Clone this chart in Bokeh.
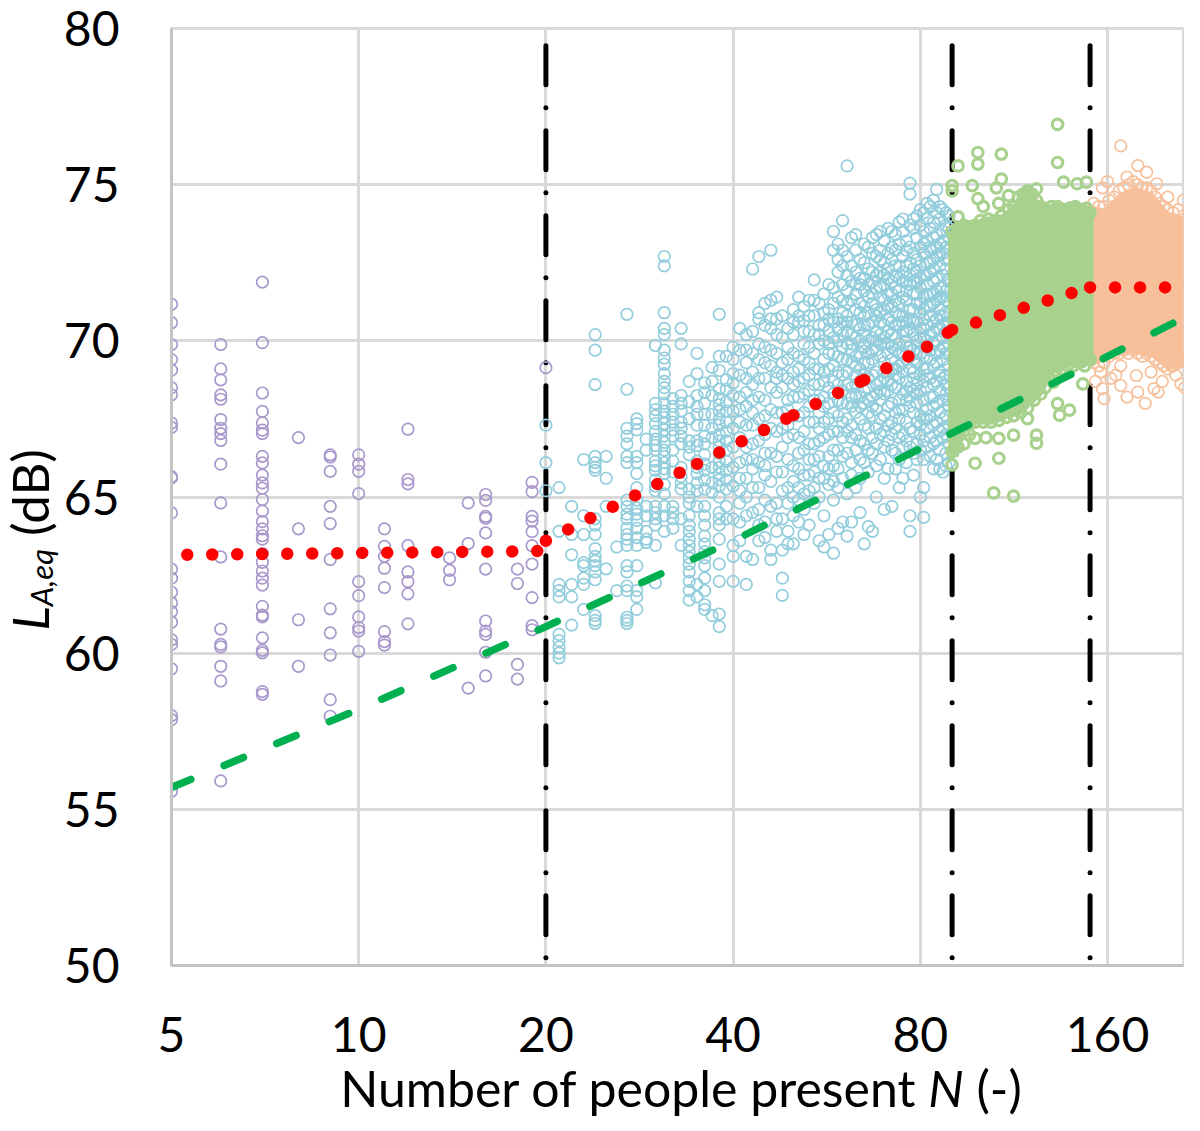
from bokeh.plotting import figure
from bokeh.models import Range1d, FixedTicker, BasicTickFormatter, Div
from bokeh.layouts import row, column
from bokeh.embed import file_html
from bokeh.resources import INLINE

# ---------------- axes ----------------
x_ticks = [5, 10, 20, 40, 80, 160]
y_ticks = [50, 55, 60, 65, 70, 75, 80]
x_min, x_max = 5, 212
y_min, y_max = 50, 80
x_title_plain = "Number of people present"
x_title_var = "N"
x_title_unit = "(-)"
y_title_var = "L"
y_title_sub = "A,eq"
y_title_unit = "(dB)"

# ---------------- scatter data: {N: [LAeq values]} ----------------
purple_cols = {
    5: [71.17, 70.58, 69.88, 69.40, 69.06, 68.50, 68.27, 67.37, 67.23, 65.65, 65.61, 64.49, 62.69, 62.40,
        61.95, 61.61, 61.33, 60.99, 60.43, 60.28, 59.50, 58.00, 57.87, 55.58],
    6: [69.88, 69.10, 68.75, 68.27, 68.13, 67.48, 67.20, 67.03, 66.81, 66.05, 64.81, 63.08, 60.77, 60.28,
        60.20, 59.58, 59.11, 55.91],
    7: [71.88, 69.94, 68.33, 67.74, 67.37, 67.14, 67.03, 66.30, 66.09, 65.70, 65.45, 65.28, 64.92, 64.55,
        64.21, 63.98, 63.76, 63.65, 63.19, 62.91, 62.63, 62.40, 62.18, 61.50, 61.22, 61.16, 60.49, 60.09,
        60.01, 58.77, 58.68],
    8: [66.90, 63.98, 61.07, 59.58],
    9: [66.35, 66.28, 65.82, 64.70, 64.15, 63.00, 61.42, 60.65, 59.94, 58.51, 57.98],
    10: [66.35, 66.05, 65.82, 65.11, 62.29, 61.84, 61.16, 60.82, 60.71, 60.06],
    11: [63.98, 63.42, 63.10, 62.72, 62.10, 60.69, 60.37, 60.26],
    12: [67.17, 65.56, 65.42, 63.44, 62.60, 62.29, 61.90, 60.94],
    14: [63.05, 62.65, 62.35],
    15: [64.81, 63.51, 58.88],
    16: [65.08, 64.89, 64.38, 64.32, 63.85, 62.69, 61.03, 60.71, 60.60, 60.03, 59.27],
    18: [62.69, 62.23, 59.64, 59.17],
    19: [65.47, 65.17, 64.38, 64.23, 63.89, 63.44, 62.85, 61.78, 60.88, 60.75],
    20: [69.14],
}

blue_cols_20_40 = {
    20: [67.3, 66.1, 65.2],
    21: [65.3, 63.9, 62.2, 62.0, 61.8, 60.6, 60.4, 60.2, 60.0, 59.85],
    22: [64.7, 63.8, 63.15, 62.2, 61.8, 60.9],
    23: [66.2, 64.4, 63.8, 62.9, 62.8, 62.4, 62.2, 61.4],
    24: [70.2, 69.7, 68.6, 66.3, 66.1, 65.95, 65.85, 64.3, 64.1, 63.8, 63.35, 63.1, 62.95, 62.8, 62.6,
         62.35, 61.2, 61.05, 60.95],
    25: [66.3, 65.6, 64.7, 62.7],
    26: [63.4, 62.0],
    27: [70.85, 68.45, 67.2, 66.95, 66.7, 66.3, 66.1, 64.9, 64.7, 64.45, 64.3, 64.0, 63.8, 63.65, 63.45,
         62.8, 62.6, 62.15, 62.0, 61.15, 61.05, 60.95],
    28: [67.5, 67.35, 67.15, 66.3, 66.1, 65.75, 65.3, 64.9, 64.65, 64.45, 64.25, 64.0, 63.7, 63.45, 62.8,
         62.0, 61.8, 61.4],
    29: [66.85, 66.5, 64.7, 64.4, 63.9, 63.65, 63.55],
    30: [69.85, 68.0, 67.8, 67.6, 67.35, 67.1, 66.85, 66.65, 66.5, 66.15, 66.0, 65.85, 65.55, 65.35, 65.2,
         64.7, 64.5, 64.3, 64.1, 63.45, 62.25],
    31: [72.7, 72.4, 70.9, 70.4, 70.2, 69.7, 69.45, 69.25, 68.95, 68.7, 68.5, 68.3, 68.0, 67.75, 67.55,
         67.35, 67.15, 66.95, 66.75, 66.5, 66.3, 66.1, 65.9, 65.75, 65.4, 65.1, 64.7, 64.4, 63.9],
    32: [68.15, 67.9, 67.65, 67.4, 67.15, 66.95, 66.5, 66.15, 65.8, 64.7, 64.5, 64.3, 64.0],
    33: [70.4, 69.9, 68.25, 68.0, 67.75, 67.4, 67.2, 66.95, 66.7, 65.95, 65.65, 65.45, 65.25, 64.3, 63.45],
    34: [68.7, 68.05, 67.5, 66.8, 66.6, 66.35, 65.25, 65.0, 64.8, 64.4, 64.1, 63.9, 63.65, 63.45, 63.25,
         63.05, 62.85, 62.6, 62.3, 62.0, 61.7],
    35: [69.6, 68.95, 68.25, 67.9, 67.65, 67.3, 66.8, 66.65, 66.15, 65.95, 65.75, 65.45, 65.2, 64.7, 62.2, 61.8],
    36: [68.65, 68.35, 68.0, 67.65, 67.3, 66.95, 66.7, 66.35, 66.05, 65.85, 65.55, 65.25, 64.7, 64.4, 64.1,
         63.75, 63.5, 63.25, 63.05, 62.8, 62.4, 62.0, 61.55, 61.4],
    37: [69.15, 68.7, 68.25, 67.65, 67.2, 66.9, 65.95, 65.45, 65.15, 61.2],
    38: [70.85, 69.5, 69.05, 68.45, 68.15, 67.95, 67.75, 67.5, 67.3, 67.0, 66.8, 66.6, 66.4, 66.15, 65.95,
         65.75, 65.55, 65.35, 65.0, 64.5, 64.3, 64.1, 63.65, 62.85, 62.3, 61.25, 60.85],
    39: [69.5, 68.75, 68.45, 68.05, 67.75, 67.4, 67.1, 66.8, 66.5, 66.15, 65.85, 65.55, 65.25, 64.7, 64.3],
    40: [69.8, 69.4, 68.95, 68.65, 68.25, 67.75, 67.2, 66.6, 65.95, 65.35, 64.3, 63.45, 63.1, 62.3],
}

blue_cols_41_60 = {
    41: [69.7, 68.9, 68.2, 67.4, 66.9, 66.1, 65.2, 64.8, 63.6, 70.4, 67.8, 65.6, 64.2],
    42: [70.2, 69.3, 68.8, 68.35, 67.9, 66.6, 65.6, 65.0, 63.1, 62.2, 69.7, 67.3, 66.2, 64.4],
    43: [72.3, 69.6, 69.0, 68.6, 68.1, 67.3, 66.7, 65.9, 64.5, 63.0, 70.3, 67.7, 66.2, 65.3],
    44: [72.7, 70.9, 70.7, 69.4, 68.2, 67.5, 66.1, 65.3, 64.6, 63.6, 69.9, 68.8, 66.8, 64.1],
    45: [70.5, 69.8, 68.8, 68.1, 67.0, 66.4, 65.7, 64.9, 64.2, 71.2, 69.3, 67.6, 66.0, 63.7],
    46: [72.9, 70.7, 70.4, 69.2, 68.5, 67.8, 66.4, 65.5, 63.3, 63.0, 71.3, 69.7, 67.2, 64.7],
    47: [71.4, 70.7, 69.6, 69.0, 68.8, 68.35, 67.7, 65.8, 64.8, 63.9, 70.2, 67.1, 66.3, 64.3],
    48: [70.1, 69.3, 68.5, 67.2, 66.6, 65.2, 64.3, 62.4, 61.85, 70.8, 68.9, 67.7, 65.8, 63.3],
    49: [69.8, 68.8, 68.1, 67.8, 66.9, 65.3, 64.8, 63.9, 63.5, 70.4, 69.4, 67.3, 66.2],
    50: [71.0, 70.2, 69.0, 68.2, 67.0, 66.0, 65.5, 64.4, 63.5, 70.6, 69.6, 68.6, 67.6, 65.0],
    51: [70.8, 70.6, 69.5, 68.7, 67.6, 66.9, 65.9, 64.9, 64.2, 71.4, 69.1, 68.2, 66.4, 65.3],
    52: [70.65, 69.9, 68.8, 67.7, 66.5, 65.7, 64.6, 63.8, 71.1, 70.3, 69.4, 68.3, 67.1, 65.1],
    53: [71.3, 70.3, 69.3, 68.4, 67.4, 66.2, 65.2, 64.1, 70.8, 69.8, 68.9, 67.9, 66.7, 65.7],
    54: [71.95, 71.3, 70.8, 69.6, 68.6, 67.4, 66.7, 65.8, 64.8, 70.2, 69.1, 68.1, 66.2, 65.3],
    55: [70.5, 69.9, 69.1, 68.1, 67.2, 66.3, 65.0, 63.6, 71.2, 70.2, 68.6, 67.7, 66.8, 65.6],
    56: [70.9, 70.0, 69.4, 68.7, 67.9, 66.9, 66.0, 64.4, 63.4, 71.5, 70.5, 69.0, 68.2, 67.4, 65.6],
    57: [71.0, 70.3, 69.6, 68.5, 67.5, 66.3, 65.4, 63.8, 71.8, 70.7, 69.9, 69.1, 68.0, 67.0, 65.9],
    58: [73.5, 72.9, 71.2, 70.1, 69.2, 68.3, 67.1, 66.0, 64.9, 63.2, 71.7, 70.6, 69.6, 68.7, 67.7, 66.5, 65.5],
    59: [73.1, 72.6, 70.7, 70.4, 69.5, 68.6, 67.1, 66.5, 65.3, 64.0, 72.2, 71.4, 70.0, 69.0, 68.1, 67.6, 65.9],
    60: [73.85, 72.4, 71.3, 70.6, 69.8, 68.9, 68.0, 66.9, 65.6, 64.2, 72.9, 71.8, 70.9, 70.2, 69.4, 68.4,
         67.4, 66.3],
}

blue_cols_61_89 = {
    61: [75.6, 72.7, 72.1, 71.6, 70.8, 70.3, 69.9, 69.0, 68.6, 68.0, 67.5, 67.1, 66.4, 65.1, 63.75, 71.2, 69.4, 70.6],
    62: [73.3, 72.4, 71.9, 70.6, 70.2, 69.7, 69.3, 68.5, 67.9, 67.3, 66.9, 66.1, 65.7, 64.2, 71.3, 68.2, 69.9],
    63: [72.9, 72.2, 71.5, 71.0, 70.1, 69.5, 68.9, 68.3, 67.7, 67.0, 66.5, 65.3, 73.4, 70.5, 69.2, 71.8, 68.6],
    64: [72.6, 72.0, 71.8, 70.9, 70.4, 69.6, 69.1, 68.7, 67.9, 67.5, 66.8, 66.2, 65.6, 64.5, 71.2, 68.2, 70.0],
    65: [73.1, 72.5, 71.6, 71.1, 70.5, 69.8, 69.3, 68.4, 68.0, 67.3, 66.7, 66.1, 63.5, 70.2, 72.0, 68.9, 70.8],
    66: [73.0, 72.3, 71.4, 70.9, 70.0, 69.6, 68.8, 68.5, 67.7, 67.2, 66.5, 65.8, 64.05, 71.8, 69.3, 70.5, 68.1],
    67: [73.3, 72.8, 71.9, 71.2, 70.6, 70.1, 69.4, 68.9, 68.2, 67.6, 66.9, 66.4, 63.9, 72.2, 67.9, 69.7, 71.5],
    68: [72.7, 72.1, 71.7, 70.8, 70.3, 69.7, 69.0, 68.6, 67.8, 67.2, 66.7, 66.0, 65.0, 73.4, 71.0, 68.3, 70.0],
    69: [73.5, 72.9, 72.2, 71.4, 70.9, 70.2, 69.5, 68.7, 68.1, 67.5, 67.0, 66.2, 71.7, 69.9, 68.4, 70.6, 72.6],
    70: [73.2, 72.5, 71.8, 71.3, 70.5, 69.9, 69.3, 68.8, 68.3, 67.6, 67.1, 66.6, 65.6, 64.6, 72.1, 70.1, 69.0, 71.0],
    71: [73.6, 72.8, 72.3, 71.5, 70.7, 70.3, 69.6, 69.0, 68.4, 67.9, 67.3, 66.8, 65.9, 71.1, 68.7, 69.9, 72.0],
    72: [73.0, 72.6, 71.9, 71.1, 70.6, 69.8, 69.4, 68.6, 68.0, 67.4, 66.5, 64.7, 73.5, 70.2, 67.0, 71.5, 69.1],
    73: [73.4, 72.9, 72.1, 71.7, 70.9, 70.1, 69.7, 69.1, 68.5, 67.7, 67.2, 66.4, 65.9, 72.4, 68.9, 70.5, 71.3],
    74: [73.8, 73.1, 72.4, 71.6, 71.2, 70.5, 69.9, 69.2, 68.8, 68.1, 67.5, 66.9, 66.2, 65.3, 70.8, 67.8, 69.6, 72.0],
    75: [73.5, 72.7, 72.2, 71.4, 70.8, 70.3, 69.6, 69.0, 68.3, 67.8, 67.0, 66.6, 65.6, 73.9, 71.9, 69.3, 70.6],
    76: [73.2, 72.9, 71.9, 71.3, 70.6, 70.0, 69.4, 68.7, 68.1, 67.4, 66.8, 66.1, 72.4, 69.8, 71.6, 68.4, 70.3],
    77: [75.05, 74.7, 73.7, 73.0, 72.5, 71.8, 71.0, 70.4, 69.8, 69.1, 68.5, 67.9, 67.2, 66.6, 64.4, 63.9, 72.1,
         70.7, 68.2, 69.5],
    78: [73.6, 72.8, 72.3, 71.5, 71.0, 70.2, 69.7, 69.0, 68.4, 67.7, 67.1, 66.4, 65.7, 73.9, 70.6, 68.8, 71.9, 69.4],
    79: [74.0, 73.3, 72.6, 71.9, 71.2, 70.6, 70.0, 69.3, 68.6, 68.0, 67.4, 66.7, 66.2, 72.2, 69.6, 71.5, 68.3],
    80: [73.7, 73.0, 72.4, 71.7, 70.9, 70.4, 69.6, 68.9, 68.4, 67.6, 67.0, 66.5, 65.0, 74.2, 72.0, 70.1, 67.3, 71.2],
    81: [74.1, 73.5, 72.8, 72.1, 71.4, 70.7, 70.1, 69.5, 68.7, 68.1, 67.5, 66.8, 66.2, 65.3, 64.35, 73.1, 71.0,
         69.1, 70.4],
    82: [73.9, 73.2, 72.5, 71.8, 71.1, 70.5, 69.8, 69.1, 68.5, 67.8, 67.2, 66.6, 74.4, 72.1, 70.0, 67.5, 71.5, 68.9],
    83: [74.3, 73.6, 72.9, 72.2, 71.5, 70.8, 70.2, 69.4, 68.8, 68.2, 67.6, 66.9, 66.3, 73.0, 71.1, 69.7, 72.5],
    84: [73.8, 73.3, 72.6, 71.9, 71.2, 70.6, 69.9, 69.2, 68.6, 67.9, 67.3, 66.7, 65.9, 74.5, 72.3, 70.3, 68.2, 71.5],
    85: [74.85, 74.1, 73.4, 72.7, 72.0, 71.3, 70.7, 70.0, 69.3, 68.7, 68.0, 67.4, 66.8, 66.2, 73.0, 71.6, 69.6, 70.4],
    86: [73.9, 73.1, 72.4, 71.7, 71.0, 70.4, 69.7, 69.0, 68.4, 67.7, 67.1, 66.5, 65.9, 74.3, 72.8, 70.8, 68.9, 71.4],
    87: [74.2, 73.5, 72.8, 72.1, 71.4, 70.8, 70.1, 69.4, 68.8, 68.1, 67.5, 66.9, 65.8, 73.2, 71.7, 69.8, 67.2, 70.5],
    88: [73.7, 73.0, 72.3, 71.6, 70.9, 70.3, 69.6, 68.9, 68.3, 67.6, 67.0, 66.4, 66.0, 74.1, 72.6, 70.6, 68.6, 71.3],
    89: [74.0, 73.3, 72.6, 71.9, 71.2, 70.6, 69.9, 69.2, 68.5, 67.9, 67.3, 66.7, 66.1, 73.6, 72.0, 70.2, 68.1, 69.6],
}

# N = 90-150: saturated cloud (envelope) plus the individually visible circles
green_core_n = [89, 90.6, 94, 97.6, 101.4, 105.2, 109.1, 113.2, 116, 120.4, 123.4, 128, 132.7, 137.7,
                142.9, 148.3, 151.5,
                151.5, 146.5, 141.3, 136.3, 131.5, 128.4, 125.5, 120.4, 116, 110.4, 105.2, 100, 96.4,
                94, 91.8, 89]
green_core_l = [73.4, 73.65, 73.8, 73.75, 73.95, 73.95, 74.05, 74.35, 74.75, 74.8, 74.5, 74.3, 74.4, 74.3,
                74.4, 74.3, 74.2,
                69.35, 69.15, 69.25, 69.15, 69.0, 68.7, 68.3, 67.95, 67.65, 67.55, 67.35, 67.35, 67.35,
                67.0, 66.3, 66.4]
green_cols = {
    90: [74.97, 74.8, 73.5, 66.03, 66.45],
    92: [75.6, 73.97, 73.6, 66.6],
    94: [73.7, 67.1, 66.7],
    96: [73.65, 67.35, 67.0],
    97: [74.97],
    98: [73.7, 67.4, 66.08, 66.88],
    99: [76.03, 75.66, 74.55],
    100: [73.85],
    101: [74.3, 67.4],
    102: [66.9],
    103: [73.9],
    104: [67.4],
    105: [65.13],
    106: [74.9, 73.85],
    107: [74.4, 67.45, 66.24, 66.88],
    108: [75.98, 75.18, 74.0],
    110: [67.55],
    111: [74.65, 74.2],
    113: [74.3, 67.6, 66.98, 65.03],
    115: [74.6],
    116: [67.7],
    117: [74.7],
    119: [74.8, 74.75, 67.85, 67.51],
    121: [74.7],
    122: [68.1],
    123: [74.87, 74.5, 66.98, 66.72],
    125: [74.3, 68.3],
    127: [74.2, 68.5],
    129: [68.8],
    130: [74.3],
    131: [68.68],
    132: [69.05],
    133: [76.93, 75.71, 74.3, 67.99],
    134: [67.62],
    135: [69.1],
    136: [75.08, 74.2],
    138: [69.2],
    139: [74.25, 67.78],
    141: [69.2],
    142: [74.3],
    143: [75.03],
    144: [69.3],
    145: [74.2],
    146: [68.62],
    147: [69.2],
    148: [75.08, 74.25],
    150: [74.1, 69.4],
}

# N = 151-222: saturated cloud (envelope) plus the individually visible circles
orange_core_n = [151, 158, 168, 178, 189, 200, 211, 224,
                 224, 211, 200, 189, 178, 168, 158, 151]
orange_core_l = [74.3, 74.2, 74.7, 74.9, 74.7, 74.1, 73.95, 73.9,
                 69.4, 69.2, 69.1, 69.5, 69.6, 69.6, 69.4, 69.2]
orange_cols = {
    152: [74.4, 69.3],
    153: [68.7],
    155: [74.3, 69.2],
    156: [69.0],
    157: [74.9, 68.47],
    158: [74.3, 69.3, 68.15],
    160: [75.1],
    161: [74.5, 69.5],
    162: [68.8],
    164: [74.6, 69.6],
    165: [68.9],
    167: [74.8, 69.6],
    168: [76.24, 69.2, 68.57],
    170: [74.9, 69.7],
    172: [75.24, 68.2],
    173: [75.0, 69.6],
    176: [75.1, 69.7],
    178: [68.89],
    179: [75.61, 75.0, 69.6, 68.36],
    182: [74.9, 69.5],
    184: [68.0],
    185: [75.4, 74.9, 69.6],
    188: [74.8, 69.5, 69.0],
    190: [68.47],
    191: [74.6, 69.4],
    192: [75.03],
    193: [68.36],
    194: [74.4, 69.3],
    196: [68.7],
    197: [74.3, 69.2],
    199: [69.42],
    200: [74.6, 74.2, 69.1],
    203: [69.2],
    204: [74.1, 69.2],
    206: [68.9],
    208: [74.2, 69.3],
    210: [68.62],
    212: [74.5, 74.0, 69.4],
    213: [68.5],
    215: [69.42],
    216: [74.1, 69.4],
    219: [74.3, 67.94],
    220: [73.95, 69.5],
}

# ---------------- trend lines and boundaries ----------------
trend_n = [5, 10, 20, 40, 80, 160, 220]
trend_l = [55.7, 58.2, 60.85, 63.6, 66.55, 69.5, 70.9]

red_seg_n = [[5.3, 20], [20, 35], [35, 50], [50, 65], [65, 82], [82, 90], [90, 150], [150, 230]]
red_seg_l = [[63.15, 63.27], [63.6, 66.06], [66.06, 67.62], [67.62, 68.75], [68.75, 69.81],
             [69.81, 70.35], [70.35, 71.71], [71.71, 71.71]]

boundary_n = [20, 90, 150]
boundary_l = [79.45, 50]

# ---------------- colours ----------------
PURPLE = "#A898CB"
BLUE = "#92CDDC"
GREEN = "#A9D18E"
ORANGE = "#F7C09A"
GRID = "#D9D9D9"
AXIS = "#C4C4C4"
FONT = "Lato"


def flat(*dicts):
    xs, ys = [], []
    for cols in dicts:
        for n, ls in cols.items():
            xs += [n] * len(ls)
            ys += ls
    return xs, ys


# ---------------- layout sizes ----------------
TOTAL_W, TOTAL_H = 1184, 1115
YT_W = 60                      # y title column
PW, PH = TOTAL_W - YT_W, 1072  # plot
XT_H = TOTAL_H - PH            # x title row
BL, BR, BT = 110, 1, 28
BB = PH - 965

p = figure(width=PW, height=PH, x_axis_type="log",
           x_range=Range1d(x_min, x_max), y_range=Range1d(y_min, y_max),
           output_backend="svg", toolbar_location=None,
           min_border_left=BL, min_border_right=BR, min_border_top=BT, min_border_bottom=BB)
p.background_fill_color = "white"
p.border_fill_color = "white"
p.outline_line_color = GRID
p.outline_line_width = 3

for ax in (p.xaxis[0], p.yaxis[0]):
    ax.axis_line_color = AXIS
    ax.axis_line_width = 3
    ax.major_tick_line_color = None
    ax.minor_tick_line_color = None
    ax.major_tick_out = 0
    ax.major_tick_in = 0
    ax.major_label_text_font = FONT
    ax.major_label_text_font_size = "48px"
    ax.major_label_text_color = "black"

p.xaxis.ticker = FixedTicker(ticks=x_ticks, minor_ticks=[])
p.xaxis.formatter = BasicTickFormatter()
p.xaxis.major_label_standoff = 51
p.yaxis.ticker = FixedTicker(ticks=y_ticks, minor_ticks=[])
p.yaxis.major_label_standoff = 52

p.xgrid.ticker = FixedTicker(ticks=x_ticks, minor_ticks=[])
p.ygrid.ticker = FixedTicker(ticks=y_ticks, minor_ticks=[])
for g in (p.xgrid[0], p.ygrid[0]):
    g.grid_line_color = GRID
    g.grid_line_width = 3

# boundaries (long dash - dot)
for n in boundary_n:
    p.line([n, n], boundary_l, line_color="black", line_width=5, line_dash="39 23 0 23", line_cap="round")

# scatter
px, py = flat(purple_cols)
p.scatter(px, py, marker="circle", size=11.5, fill_color=None, line_color=PURPLE, line_width=1.7)
bx, by = flat(blue_cols_20_40, blue_cols_41_60, blue_cols_61_89)
p.scatter(bx, by, marker="circle", size=11.5, fill_color=None, line_color=BLUE, line_width=1.7)

p.patch(orange_core_n, orange_core_l, fill_color=ORANGE, line_color=ORANGE, line_width=2)
ox, oy = flat(orange_cols)
p.scatter(ox, oy, marker="circle", size=11.5, fill_color=None, line_color=ORANGE, line_width=1.7)

p.patch(green_core_n, green_core_l, fill_color=GREEN, line_color=GREEN, line_width=2)
gx, gy = flat(green_cols)
p.scatter(gx, gy, marker="circle", size=10.5, fill_color=None, line_color=GREEN, line_width=3.2)

# trend lines
p.line(trend_n, trend_l, line_color="#00B050", line_width=7.5, line_dash="21 36", line_cap="round")
for sn, sl in zip(red_seg_n, red_seg_l):
    p.line(sn, sl, line_color="#FF0000", line_width=12.5, line_dash="0 25", line_cap="round")

# ---------------- axis titles (real text, with italic variable and subscript) ----------------
y_html = (
    f'<div style="width:{YT_W}px;height:{PH}px;display:flex;align-items:center;justify-content:center;'
    f'padding-top:8px;padding-left:2px;">'
    f'<div style="writing-mode:vertical-rl;transform:rotate(180deg);font-family:{FONT};font-size:51px;'
    f'line-height:0.95;color:#000;white-space:nowrap;">'
    f'<i>{y_title_var}</i><sub style="font-size:31px;font-style:italic;">{y_title_sub}</sub> {y_title_unit}'
    f'</div></div>'
)
x_html = (
    f'<div style="margin-left:{681 - YT_W - 500}px;width:1000px;text-align:center;'
    f'font-family:{FONT};font-size:50px;line-height:32px;color:#000;white-space:nowrap;">'
    f'{x_title_plain} <i>{x_title_var}</i> {x_title_unit}</div>'
)
y_title = Div(text=y_html, width=YT_W, height=PH, margin=0)
x_title = Div(text=x_html, width=PW, height=XT_H, margin=0)

layout = row(y_title, column(p, x_title, spacing=0), spacing=0)

open("out.html", "w").write(file_html(layout, INLINE))
